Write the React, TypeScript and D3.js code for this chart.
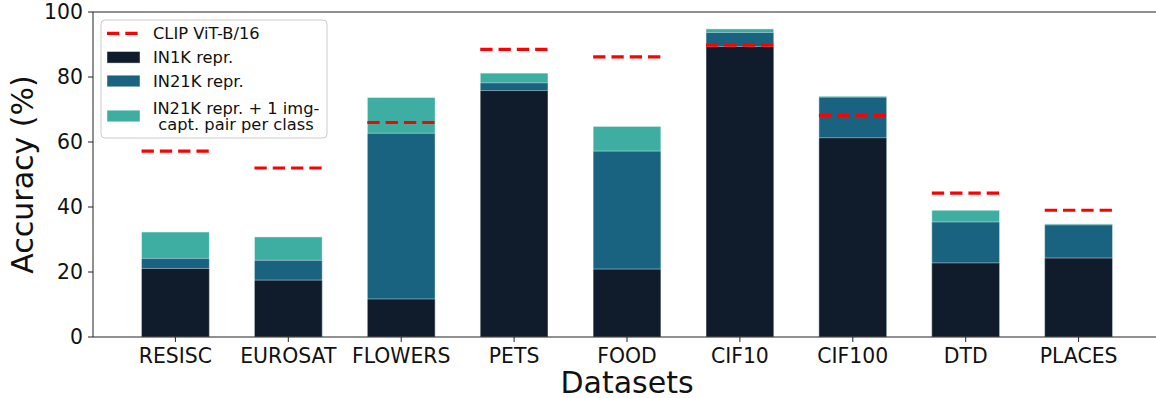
import React from "react";
import * as d3 from "d3";

// Datasets and accuracies (%)
const datasets = ["RESISC", "EUROSAT", "FLOWERS", "PETS", "FOOD", "CIF10", "CIF100", "DTD", "PLACES"];
const in1k = [21.1, 17.5, 11.7, 75.8, 20.9, 89.4, 61.3, 22.8, 24.3];
const in21k = [24.2, 23.6, 62.7, 78.2, 57.2, 93.7, 73.8, 35.4, 34.5];
const in21kCapt = [32.3, 30.8, 73.7, 81.2, 64.8, 94.8, 74.1, 39.0, 34.8];
const clip = [57.2, 52.0, 66.0, 88.5, 86.2, 89.8, 68.1, 44.3, 39.0];
const yTicks = [0, 20, 40, 60, 80, 100];

const W = 1156;
const H = 398;
const FONT = "DejaVu Sans, sans-serif";

const C_DARK = "#101c2b";
const C_MID = "#1a6380";
const C_TEAL = "#3eaea3";
const C_RED = "#ff0000";

export default function App() {
  const left = 93;
  const right = 1161;
  const top = 12;
  const bottom = 337;
  const barW = 0.6;

  const x = d3.scaleLinear().domain([-0.73, datasets.length - 1 + 0.73]).range([left, right]);
  const y = d3.scaleLinear().domain([0, 100]).range([bottom, top]);
  const bw = x(barW) - x(0);

  // drawn back to front: largest total first
  const layers = [
    { vals: in21kCapt, color: C_TEAL },
    { vals: in21k, color: C_MID },
    { vals: in1k, color: C_DARK },
  ];

  const legendItems = [
    { type: "line", label: ["CLIP ViT-B/16"], color: C_RED, cy: 33.3 },
    { type: "rect", label: ["IN1K repr."], color: C_DARK, cy: 57.3 },
    { type: "rect", label: ["IN21K repr."], color: C_MID, cy: 81 },
    { type: "rect", label: ["IN21K repr. + 1 img-", "capt. pair per class"], color: C_TEAL, cy: 116 },
  ];

  return (
    <svg
      width={W}
      height={H}
      style={{ position: "absolute", left: 0, top: 0, background: "#fff" }}
      fontFamily={FONT}
    >
      <defs>
        <clipPath id="plotArea">
          <rect x={left} y={top} width={right - left} height={bottom - top} />
        </clipPath>
      </defs>

      <g clipPath="url(#plotArea)">
        {layers.map((layer, li) => (
          <g key={li}>
            {layer.vals.map((v, i) => (
              <rect
                key={i}
                x={x(i) - bw / 2}
                y={y(v)}
                width={bw}
                height={y(0) - y(v)}
                fill={layer.color}
                stroke="#ffffff"
                strokeOpacity={0.55}
                strokeWidth={0.8}
              />
            ))}
          </g>
        ))}
        {clip.map((v, i) => (
          <line
            key={i}
            x1={x(i) - bw / 2}
            x2={x(i) + bw / 2}
            y1={y(v)}
            y2={y(v)}
            stroke={C_RED}
            strokeWidth={3.2}
            strokeDasharray="12.3 6"
          />
        ))}
      </g>

      {/* spines */}
      <line x1={left} x2={left} y1={top} y2={bottom} stroke="#222" strokeWidth={1} />
      <line x1={left} x2={right} y1={bottom} y2={bottom} stroke="#222" strokeWidth={1} />
      <line x1={left} x2={right} y1={top} y2={top} stroke="#222" strokeWidth={1} />
      <line x1={right} x2={right} y1={top} y2={bottom} stroke="#222" strokeWidth={1} />

      {/* y axis */}
      {yTicks.map((t) => (
        <g key={t}>
          <line x1={left - 5} x2={left} y1={y(t)} y2={y(t)} stroke="#222" strokeWidth={1} />
          <text x={left - 10} y={y(t)} dy="0.36em" textAnchor="end" fontSize={20.4} fill="#111">
            {t}
          </text>
        </g>
      ))}

      {/* x axis */}
      {datasets.map((d, i) => (
        <g key={d}>
          <line x1={x(i)} x2={x(i)} y1={bottom} y2={bottom + 5} stroke="#222" strokeWidth={1} />
          <text x={x(i)} y={363} textAnchor="middle" fontSize={20.4} fill="#111">
            {d}
          </text>
        </g>
      ))}

      <text x={(left + right) / 2} y={393} textAnchor="middle" fontSize={30} fill="#111">
        Datasets
      </text>
      <text
        transform={`translate(33, ${(top + bottom) / 2}) rotate(-90)`}
        textAnchor="middle"
        fontSize={30}
        fill="#111"
      >
        Accuracy (%)
      </text>

      {/* legend */}
      <rect
        x={101}
        y={20}
        width={226}
        height={118}
        rx={4}
        fill="#fff"
        fillOpacity={0.8}
        stroke="#cccccc"
        strokeWidth={1}
      />
      {legendItems.map((it, k) => (
        <g key={k}>
          {it.type === "line" ? (
            <line
              x1={107}
              x2={140}
              y1={it.cy}
              y2={it.cy}
              stroke={it.color}
              strokeWidth={3.2}
              strokeDasharray="12.3 6"
            />
          ) : (
            <rect x={107} y={it.cy - 5.8} width={33} height={11.6} fill={it.color} stroke="#fff" strokeOpacity={0.55} strokeWidth={0.8} />
          )}
          {it.label.length === 1 ? (
            <text x={153} y={it.cy} dy="0.36em" fontSize={16.3} fill="#111">
              {it.label[0]}
            </text>
          ) : (
            it.label.map((l, j) => (
              <text
                key={j}
                x={236}
                y={it.cy - 8.3 + j * 16.6}
                dy="0.36em"
                textAnchor="middle"
                fontSize={16.3}
                fill="#111"
              >
                {l}
              </text>
            ))
          )}
        </g>
      ))}
    </svg>
  );
}
